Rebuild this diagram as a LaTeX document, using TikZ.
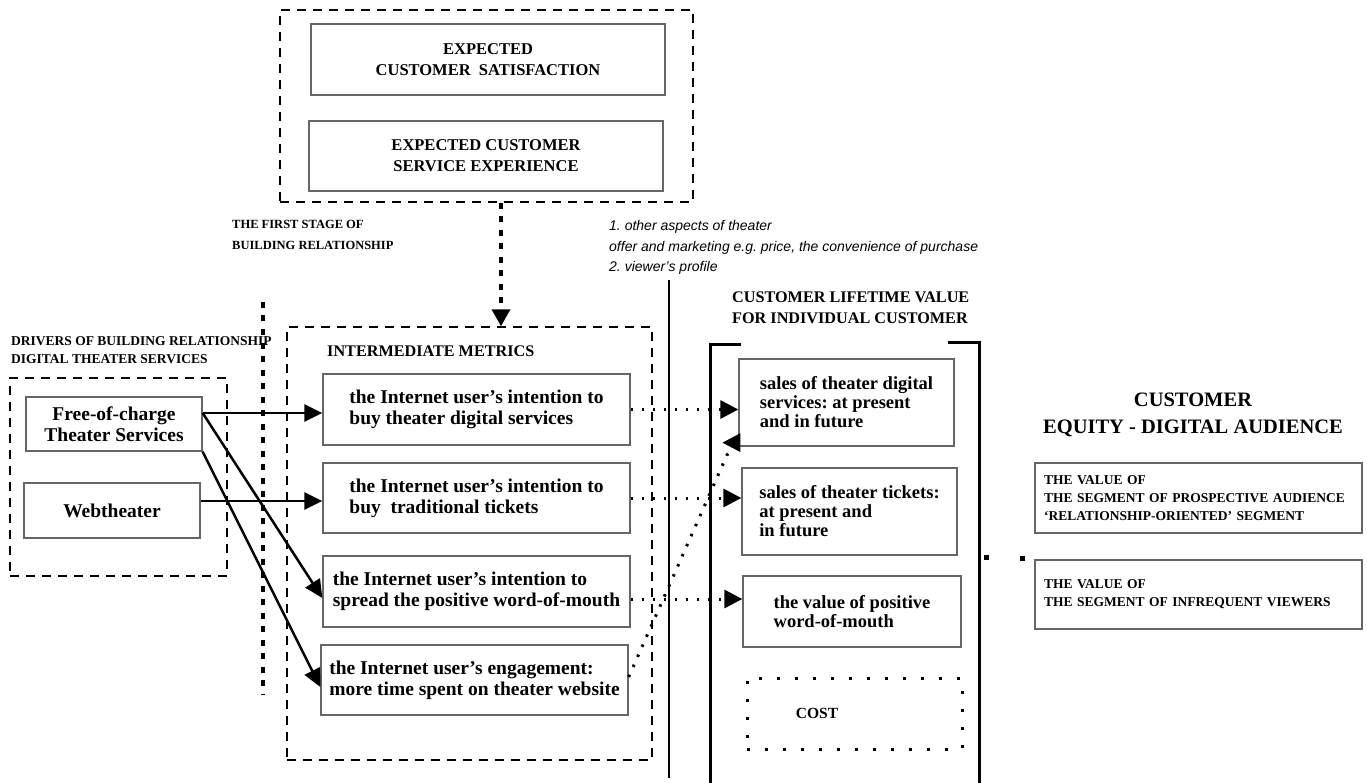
\documentclass[tikz,border=0pt]{standalone}
\usepackage{fontspec}
\setmainfont{Liberation Serif}
\newfontfamily\notefont{Liberation Sans}
\usetikzlibrary{arrows.meta}
\frenchspacing

%Font sizes of the texts
\newcommand\bigtext{\fontsize{19.5}{21}\selectfont\bfseries}
\newcommand\midtext{\fontsize{16.5}{21}\selectfont\bfseries}
\newcommand\smalltext{\fontsize{13.5}{18}\selectfont\bfseries}

\begin{document}
\begin{tikzpicture}
  [
    x=1pt, y=-1pt,
    box/.style    = {draw=black!60, line width=1.3pt, inner sep=0pt, align=left, font=\bigtext},
    frame/.style  = {draw, dash pattern=on 9pt off 7pt, line width=1.4pt, inner sep=0pt},
    head/.style   = {anchor=west, align=left, inner sep=0pt},
    arr/.style    = {-{Triangle[length=18pt,width=17pt]}, line width=2.5pt},
    dotlink/.style= {dash pattern=on 2.5pt off 8.5pt, line width=3pt, -{Triangle[length=18pt,width=18pt]}},
    heavy/.style  = {dash pattern=on 6pt off 7.5pt, line width=3.5pt},
    bracket/.style= {line width=3pt},
  ]

\useasboundingbox (0,0) rectangle (1367,783);
\fill[white] (0,0) rectangle (1367,783);

%Expected customer frame
\node[frame, minimum width=413, minimum height=192] (expframe) at (486.5,106) {};
\node[box, align=center, font=\midtext, minimum width=354, minimum height=71] (satis) at (488,59.5)
  {EXPECTED\\CUSTOMER\ \ SATISFACTION};
\node[box, align=center, font=\midtext, minimum width=354, minimum height=70] (exper) at (486,156)
  {EXPECTED CUSTOMER\\SERVICE EXPERIENCE};

\node[head, font=\fontsize{12.5}{21}\selectfont\bfseries] (stage) at (232,234.5) {THE FIRST STAGE OF\\BUILDING RELATIONSHIP};

\node[head, font=\fontsize{14}{20.5}\selectfont\notefont\itshape] (note) at (609,247.5)
  {1. other aspects of theater\\
   offer and marketing e.g. price, the convenience of purchase\\
   2. viewer’s profile};

%Drivers
\node[head, font=\smalltext] (drvtitle) at (11,350) {DRIVERS OF BUILDING RELATIONSHIP\\DIGITAL THEATER SERVICES};
\node[frame, minimum width=217, minimum height=198] (drvframe) at (118.5,477) {};
\node[box, align=center, minimum width=176, minimum height=54] (free) at (114,424)
  {Free-of-charge\\Theater Services};
\node[box, align=center, minimum width=176, minimum height=55] (web) at (112,510.5)
  {Webtheater};

%Separator of the first stage
\draw[heavy] (263,302) -- (263,695);

%Intermediate metrics
\node[frame, minimum width=365, minimum height=433] (metrics) at (469.5,543.5) {};
\node[head, font=\fontsize{16.2}{21}\selectfont\bfseries] (mtitle) at (327,351) {INTERMEDIATE METRICS};
\node[box, minimum width=307, minimum height=71] (buydig) at (476.5,409.5)
  {the Internet user’s intention to\\buy theater digital services};
\node[box, minimum width=307, minimum height=70] (buytick) at (476.5,498)
  {the Internet user’s intention to\\buy\ \ traditional tickets};
\node[box, minimum width=307, minimum height=71] (spread) at (476.5,591.5)
  {the Internet user’s intention to\\spread the positive word-of-mouth};
\node[box, minimum width=307, minimum height=70] (engage) at (474.5,680)
  {the Internet user’s engagement:\\more time spent on theater website};

\draw[heavy, -{Triangle[length=17pt,width=18pt]}] ([xshift=14.5pt]expframe.south) -- ([xshift=14.5pt]expframe.south |- metrics.north);

\draw[arr] ([yshift=11pt]free.east) -- ([yshift=11pt]free.east -| buydig.west);
\draw[arr] ([yshift=9.5pt]web.east) -- ([yshift=9.5pt]web.east -| buytick.west);
\draw[arr] ([yshift=11pt]free.east) -- ([yshift=-6.5pt]spread.west);
\draw[arr] (free.south east) -- ([yshift=-7pt]engage.west);

%Customer lifetime value
\draw[line width=1.3pt] (669,280) -- (669,778);
\node[head, font=\fontsize{16.2}{21}\selectfont\bfseries] (clvtitle) at (732,307.5) {CUSTOMER LIFETIME VALUE\\FOR INDIVIDUAL CUSTOMER};
\draw[bracket] (741,344) -- (710,344) -- (710,783);
\draw[bracket] (948,342) -- (979,342) -- (979,783);

\node[box, font=\fontsize{18.5}{19}\selectfont\bfseries, minimum width=215, minimum height=87] (salesdig) at (846.5,402.5)
  {sales of theater digital\\services: at present\\and in future};
\node[box, font=\fontsize{18.5}{19}\selectfont\bfseries, minimum width=215, minimum height=87] (salestick) at (849.5,511.5)
  {sales of theater tickets:\\at present and\\in future};
\node[box, font=\fontsize{18.5}{19}\selectfont\bfseries, minimum width=218, minimum height=71] (wom) at (852,611.5)
  {the value of positive\\word-of-mouth};
\node[draw, dash pattern=on 3pt off 15pt, line width=3pt, minimum width=215, minimum height=71] (cost) at (854.5,713.5) {};
\node[inner sep=0pt, font=\fontsize{15.5}{18}\selectfont\bfseries] (costtext) at ([xshift=-37.5pt]cost.center) {COST};

\draw[dotlink] (buydig.east) -- (buydig.east -| salesdig.west);
\draw[dotlink] (buytick.east) -- (buytick.east -| salestick.west);
\draw[dotlink] ([yshift=-7.5pt]spread.east) -- ([yshift=-7.5pt]spread.east -| wom.west);
\draw[dotlink] ([yshift=3pt]engage.east) -- (727,455) -- ([xshift=1pt,yshift=4pt]salesdig.south west) -- ++(-17,0);

\fill (984,555) rectangle ++(5,5);
\fill (1020,556) rectangle ++(5,5);

%Customer equity
\node[align=center, inner sep=0pt, font=\fontsize{20.5}{27}\selectfont\bfseries] (cetitle) at (1193,414.5)
  {CUSTOMER\\EQUITY - DIGITAL AUDIENCE};
\node[box, font=\smalltext, text width=309, inner xsep=9, minimum width=327, minimum height=70] (prosp) at (1198.5,498)
  {THE VALUE OF\\THE SEGMENT OF PROSPECTIVE AUDIENCE\\‘RELATIONSHIP-ORIENTED’ SEGMENT};
\node[box, font=\smalltext, text width=309, inner xsep=9, minimum width=327, minimum height=69] (infreq) at (1198.5,594.5)
  {THE VALUE OF\\THE SEGMENT OF INFREQUENT VIEWERS\\[6pt]};
\end{tikzpicture}
\end{document}
